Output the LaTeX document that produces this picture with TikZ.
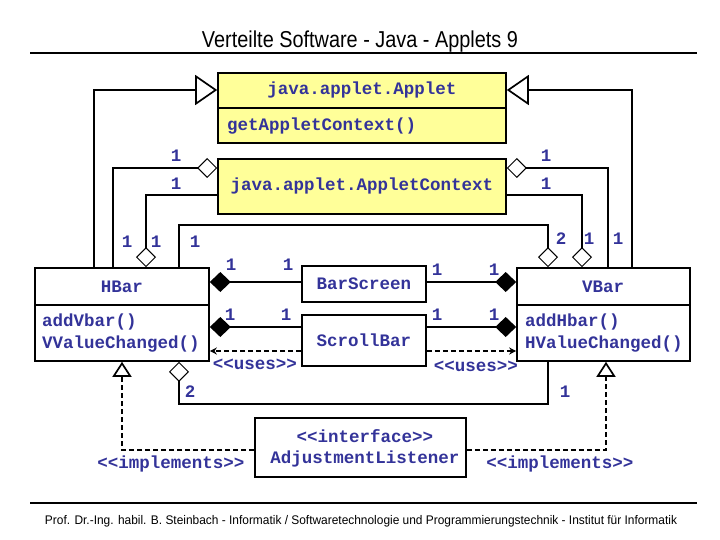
\documentclass[tikz,border=0pt]{standalone}
\usepackage{fontspec}
\usepackage{graphicx}
\usetikzlibrary{arrows.meta}
\setmainfont{Liberation Sans}
\newfontfamily\monofam{Liberation Mono}
\newcommand\umlfont{\monofam\bfseries\fontsize{17.5pt}{20pt}\selectfont}
\definecolor{umltxt}{RGB}{51,51,153}
\definecolor{umlyellow}{RGB}{255,255,153}
\begin{document}
\begin{tikzpicture}[x=1pt,y=-1pt,
  box/.style={draw, line width=1.6pt, inner sep=0pt, fill=white},
  ybox/.style={box, fill=umlyellow},
  t/.style={text=umltxt, font=\umlfont, inner sep=0pt},
  conn/.style={line width=1.7pt},
  aggS/.style={conn, {Diamond[open,length=20pt,width=20pt,line width=1pt]}-},
  aggE/.style={conn, -{Diamond[open,length=20pt,width=20pt,line width=1pt]}},
  comp/.style={conn, -{Diamond[length=21pt,width=20pt]}},
  gen/.style={conn, -{Triangle[open,length=22pt,width=30pt]}},
  real/.style={conn, dash pattern=on 5pt off 3pt, -{Triangle[open,length=15pt,width=19pt]}},
  uses/.style={conn, dash pattern=on 5pt off 3pt, -{Stealth[length=7pt,width=7pt]}},
]
\useasboundingbox (0,0) rectangle (720,540);

% title and footer
\node[anchor=base, inner sep=0pt, font=\fontsize{23pt}{26pt}\selectfont] (title) at (360,48)
  {\resizebox{316pt}{\height}{Verteilte Software - Java - Applets 9}};
\draw[line width=2.5pt] (30,53) -- (697,53);
\draw[line width=2.5pt] (30,503) -- (697,503);
\node[anchor=base, inner sep=0pt, font=\fontsize{12.5pt}{15pt}\selectfont] (footer) at (361,524)
  {\resizebox{632pt}{\height}{Prof. Dr.-Ing. habil. B. Steinbach - Informatik / Softwaretechnologie und Programmierungstechnik - Institut für Informatik}};

% boxes
\node[ybox, minimum width=288pt, minimum height=70pt] (applet) at (362,108) {};
\draw[line width=1.6pt] (applet.west |- 0,108) -- (applet.east |- 0,108);
\node[t] (appletname) at (362,90) {java.applet.Applet};
\node[t, anchor=west] (appletop) at (227,126) {getAppletContext()};

\node[ybox, minimum width=288pt, minimum height=55pt] (ctx) at (362,186.5) {};
\node[t] (ctxname) at (362,186) {java.applet.AppletContext};

\node[box, minimum width=174pt, minimum height=93pt] (hbar) at (122,314.5) {};
\draw[line width=1.6pt] (hbar.west |- 0,305) -- (hbar.east |- 0,305);
\node[t] (hbarname) at (122,287) {HBar};
\node[t, anchor=west] (hbarop1) at (42,322) {addVbar()};
\node[t, anchor=west] (hbarop2) at (42,344) {VValueChanged()};

\node[box, minimum width=173pt, minimum height=93pt] (vbar) at (603.5,314.5) {};
\draw[line width=1.6pt] (vbar.west |- 0,305) -- (vbar.east |- 0,305);
\node[t] (vbarname) at (603,287) {VBar};
\node[t, anchor=west] (vbarop1) at (525,322) {addHbar()};
\node[t, anchor=west] (vbarop2) at (525,344) {HValueChanged()};

\node[box, minimum width=124pt, minimum height=36pt] (barscreen) at (364,284) {};
\node[t] (barscreenname) at (364,284) {BarScreen};
\node[box, minimum width=124pt, minimum height=51pt] (scrollbar) at (364,340.5) {};
\node[t] (scrollbarname) at (364,340) {ScrollBar};

\node[box, minimum width=211pt, minimum height=59pt] (adj) at (360.5,447.5) {};
\node[t] (adjst) at (365,436) {<<interface>>};
\node[t] (adjname) at (365,459) {AdjustmentListener};

% generalizations to Applet
\draw[gen] (hbar.north -| 94,0) |- (applet.west |- 0,90);
\draw[gen] (vbar.north -| 632,0) |- (applet.east |- 0,90);

% aggregations with AppletContext
\draw[aggS] (ctx.west |- 0,168) -| (hbar.north -| 113,0);
\draw[aggE] (ctx.west |- 0,195) -| (hbar.north -| 146,0);
\draw[aggS] (ctx.east |- 0,168) -| (vbar.north -| 608,0);
\draw[aggE] (ctx.east |- 0,195) -| (vbar.north -| 582,0);

% HBar - VBar aggregations
\draw[aggE] (hbar.north -| 179,0) |- (548,225) -- (vbar.north -| 548,0);
\draw[aggS] (hbar.south -| 179,0) |- (548,404) -- (vbar.south -| 548,0);

% compositions
\draw[comp] (barscreen.west |- 0,282) -- (hbar.east |- 0,282);
\draw[comp] (scrollbar.west |- 0,327) -- (hbar.east |- 0,327);
\draw[comp] (barscreen.east |- 0,282) -- (vbar.west |- 0,282);
\draw[comp] (scrollbar.east |- 0,327) -- (vbar.west |- 0,327);

% uses
\draw[uses] (scrollbar.west |- 0,351) -- (hbar.east |- 0,351);
\draw[uses] (scrollbar.east |- 0,351) -- (vbar.west |- 0,351);

% realizations
\draw[real] (adj.west |- 0,450) -| (hbar.south -| 122,0);
\draw[real] (adj.east |- 0,450) -| (vbar.south -| 606,0);

% multiplicities and labels
\node[t] (m1) at (176,156) {1};
\node[t] (m2) at (176,184) {1};
\node[t] (m3) at (546,156) {1};
\node[t] (m4) at (546,184) {1};
\node[t] (m5) at (127,242) {1};
\node[t] (m6) at (156,242) {1};
\node[t] (m7) at (195,242) {1};
\node[t] (m8) at (561,239) {2};
\node[t] (m9) at (589,239) {1};
\node[t] (m10) at (618,239) {1};
\node[t] (m11) at (231,265) {1};
\node[t] (m12) at (288,265) {1};
\node[t] (m13) at (437,270) {1};
\node[t] (m14) at (494,270) {1};
\node[t] (m15) at (230,315) {1};
\node[t] (m16) at (286,315) {1};
\node[t] (m17) at (437,315) {1};
\node[t] (m18) at (494,315) {1};
\node[t] (m19) at (190,392) {2};
\node[t] (m20) at (565,392) {1};
\node[t] (uses1) at (255,364) {<<uses>>};
\node[t] (uses2) at (476,366) {<<uses>>};
\node[t] (impl1) at (171,464) {<<implements>>};
\node[t] (impl2) at (560,464) {<<implements>>};
\end{tikzpicture}
\end{document}
